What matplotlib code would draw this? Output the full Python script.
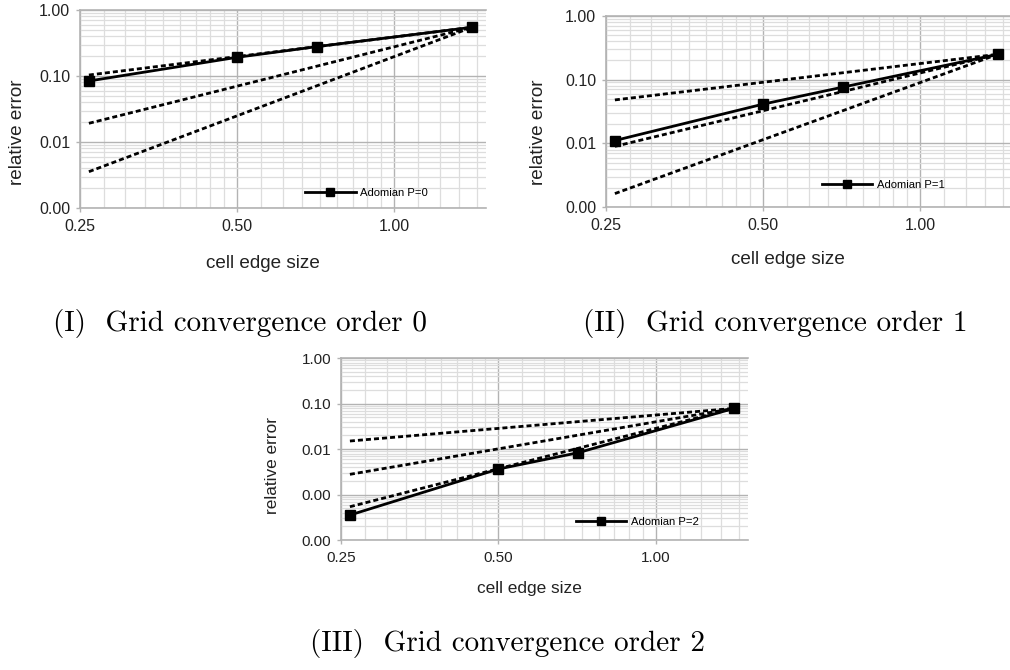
import numpy as np
import matplotlib
matplotlib.use("Agg")
import matplotlib.pyplot as plt
from matplotlib.ticker import FixedLocator, FormatStrFormatter, LogLocator, NullFormatter

# cell edge sizes and relative errors of the Adomian solution
cell_size = [0.26, 0.50, 0.71, 1.41]
err_p0 = [0.084, 0.192, 0.278, 0.547]
err_p1 = [0.0111, 0.0412, 0.076, 0.249]
err_p2 = [0.000354, 0.00365, 0.00834, 0.079]

# order 1, 2, 3 reference lines: value at the smallest cell, they end at the last point
ref_p0 = [0.1035, 0.0192, 0.00355]
ref_p1 = [0.048, 0.009, 0.00164]
ref_p2 = [0.0151, 0.00279, 0.00054]

labels = ["Adomian P=0", "Adomian P=1", "Adomian P=2"]
captions = ["(I)  Grid convergence order 0", "(II)  Grid convergence order 1",
            "(III)  Grid convergence order 2"]
ylims = [(0.001, 1.0), (0.001, 1.0), (0.0001, 1.0)]

W, H = 1010, 670
fig = plt.figure(figsize=(W / 100, H / 100), dpi=100)
plt.rcParams['font.family'] = ['Liberation Sans', 'DejaVu Sans']


def px_axes(left, top, width, bottom):
    return fig.add_axes([left / W, 1 - bottom / H, width / W, (bottom - top) / H])


# x minor grid: each factor-of-two interval split linearly into 9 parts
x_minor = []
for start in [0.125, 0.25, 0.5, 1.0]:
    x_minor += list(start + start * np.arange(1, 9) / 9)

boxes = [(80, 10, 406, 208), (606, 15.7, 406, 207.3), (341, 358.3, 407, 540)]
errs = [err_p0, err_p1, err_p2]
refs = [ref_p0, ref_p1, ref_p2]
big = [True, True, False]
legend_pos = [(0.554, 0.076), (0.531, 0.116), (0.577, 0.10)]
label_pos = [((0.45, -0.237), (-0.133, 0.381)),
             ((0.448, -0.228), (-0.145, 0.39)),
             ((0.464, -0.225), (-0.15, 0.408))]

for i in range(3):
    ax = px_axes(*boxes[i])
    ax.set_xscale('log')
    ax.set_yscale('log')
    ax.set_xlim(0.25, 1.5)
    ax.set_ylim(*ylims[i])

    solid, = ax.plot(cell_size, errs[i], color='black', lw=2.0, marker='s',
                     markersize=7, zorder=4, label=labels[i])
    for r in refs[i]:
        ax.plot([cell_size[0], cell_size[-1]], [r, errs[i][-1]], color='black',
                lw=2.0, linestyle=(0, (1.8, 1.1)), zorder=3)

    ax.xaxis.set_major_locator(FixedLocator([0.25, 0.5, 1.0]))
    ax.xaxis.set_minor_locator(FixedLocator(x_minor))
    ax.xaxis.set_major_formatter(FormatStrFormatter('%.2f'))
    ax.xaxis.set_minor_formatter(NullFormatter())
    ax.yaxis.set_major_locator(LogLocator(base=10, numticks=10))
    ax.yaxis.set_minor_locator(LogLocator(base=10, subs=np.arange(2, 10), numticks=20))
    ax.yaxis.set_major_formatter(FormatStrFormatter('%.2f'))
    ax.yaxis.set_minor_formatter(NullFormatter())

    ax.grid(which='major', color='#b3b3b3', lw=1.0)
    ax.grid(which='minor', color='#dddddd', lw=0.9)
    ax.set_axisbelow(True)
    ax.spines['right'].set_visible(False)
    for s in ['left', 'bottom', 'top']:
        ax.spines[s].set_color('#b3b3b3')
        ax.spines[s].set_linewidth(1.2)

    fs_tick = 11.5 if big[i] else 11
    fs_lab = 13.6 if big[i] else 12.4
    ax.tick_params(which='major', direction='out', length=3, width=1.0, color='#b3b3b3',
                   labelsize=fs_tick, labelcolor='#222222')
    ax.tick_params(axis='x', which='major', pad=5)
    ax.tick_params(axis='y', which='major', pad=4)
    ax.tick_params(which='minor', length=0)

    ax.set_xlabel("cell edge size", fontsize=fs_lab, color='#222222')
    ax.set_ylabel("relative error", fontsize=fs_lab, color='#222222')
    ax.xaxis.set_label_coords(*label_pos[i][0])
    ax.yaxis.set_label_coords(*label_pos[i][1])

    ax.legend(handles=[solid], loc='center left', bbox_to_anchor=legend_pos[i],
              frameon=False, fontsize=8.1, handlelength=4.5, handletextpad=0.4,
              borderpad=0, borderaxespad=0, markerscale=0.9)

fig.text(240 / W, 1 - 323 / H, captions[0], fontfamily='cmr10', fontsize=21,
         ha='center', va='center')
fig.text(775 / W, 1 - 323 / H, captions[1], fontfamily='cmr10', fontsize=21,
         ha='center', va='center')
fig.text(508 / W, 1 - 643 / H, captions[2], fontfamily='cmr10', fontsize=21,
         ha='center', va='center')

fig.savefig("out.png", dpi=100)
